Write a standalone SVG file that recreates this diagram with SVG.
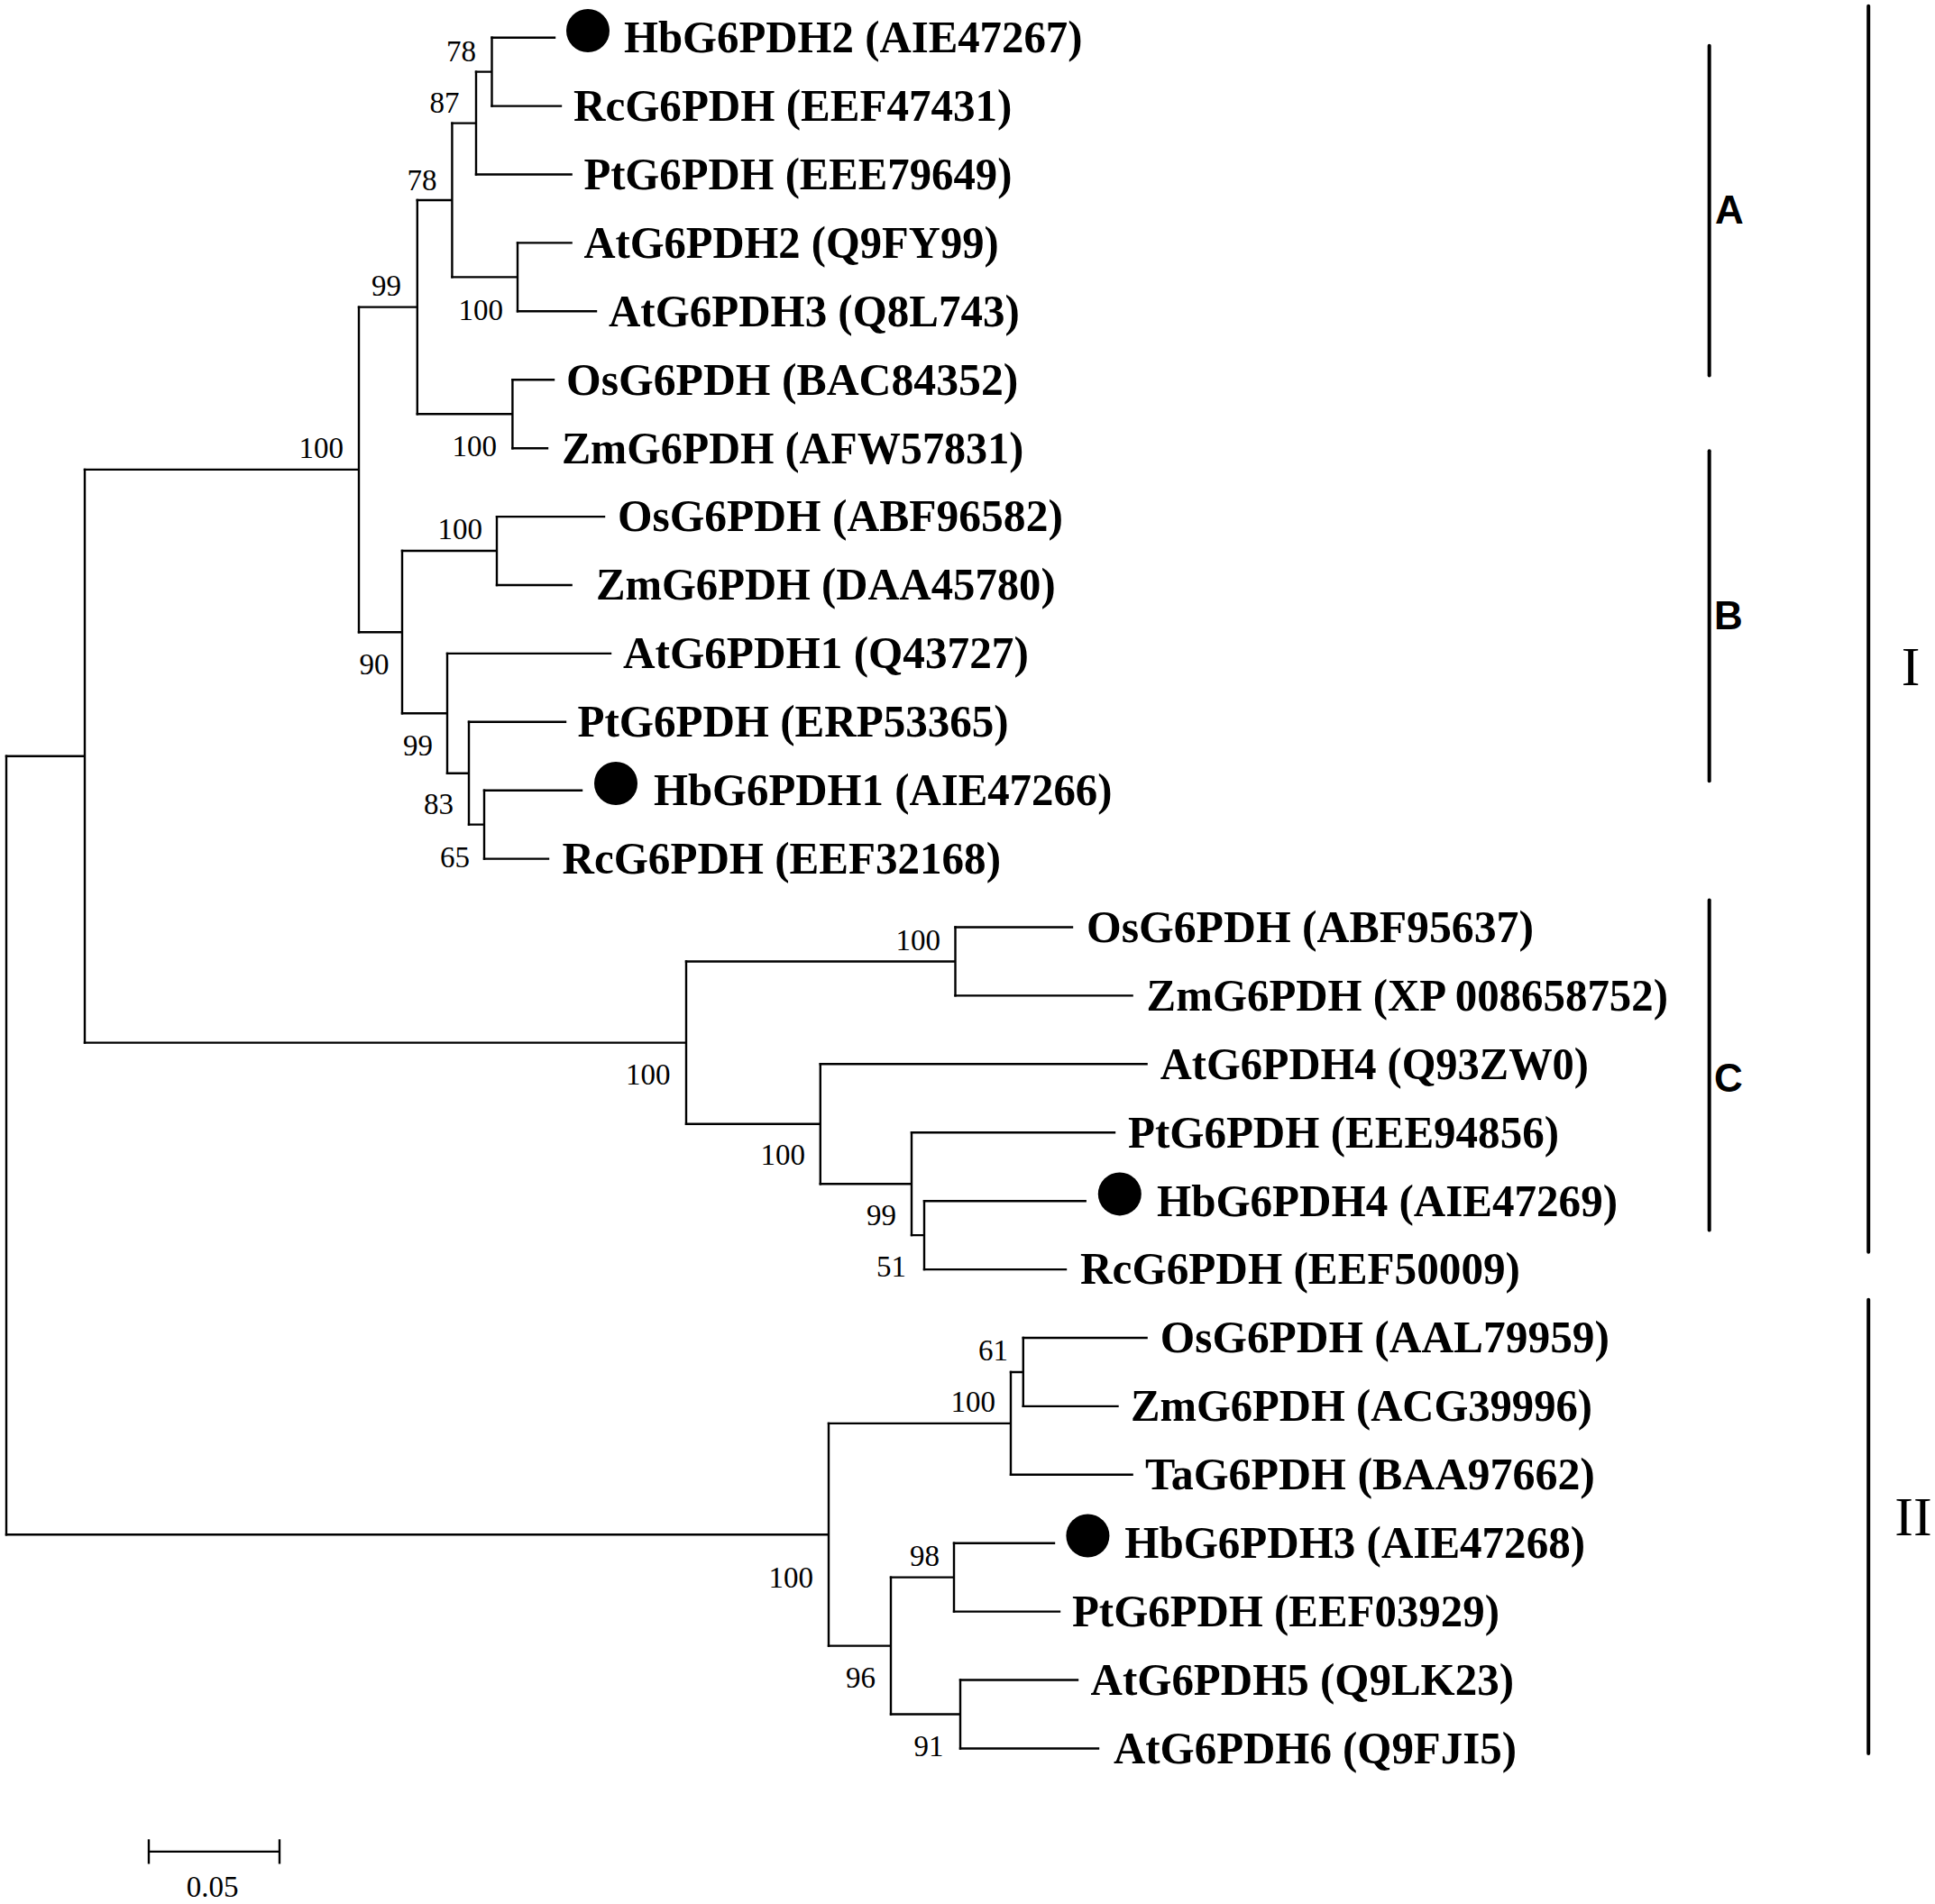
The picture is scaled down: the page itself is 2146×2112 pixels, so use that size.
<svg xmlns="http://www.w3.org/2000/svg" width="2146" height="2112" viewBox="0 0 2146 2112">
<style>
.br{fill:none;stroke:#000;stroke-width:2.4;stroke-linecap:square}
.bar{fill:none;stroke:#000;stroke-width:4;stroke-linecap:round}
.lf{font-family:"Liberation Serif","Times New Roman",serif;font-weight:bold;font-size:50px;fill:#000}
.bs{font-family:"Liberation Serif","Times New Roman",serif;font-size:33px;fill:#000;text-anchor:end}
.cl{font-family:"Liberation Sans",Arial,sans-serif;font-weight:bold;font-size:44px;fill:#000}
.gr{font-family:"Liberation Serif","Times New Roman",serif;font-size:62px;fill:#000;text-anchor:middle}
.dot{fill:#000}
</style>
<rect width="2146" height="2112" fill="#fff"/>
<g id="connectors">
<path class="br" d="M7 838.75 V1702.25"/>
<path class="br" d="M7 838.75 H94 M94 520.9 V1156.6"/>
<path class="br" d="M94 520.9 H398 M398 340.6 V701.2"/>
<path class="br" d="M398 340.6 H462.8 M462.8 222 V459.2"/>
<path class="br" d="M462.8 222 H501.4 M501.4 136.6 V307.35"/>
<path class="br" d="M501.4 136.6 H528 M528 79.65 V193.5"/>
<path class="br" d="M528 79.65 H545.5 M545.5 41.7 V117.6"/>
<path class="br" d="M501.4 307.35 H574 M574 269.4 V345.3"/>
<path class="br" d="M462.8 459.2 H568.4 M568.4 421.3 V497.2"/>
<path class="br" d="M398 701.2 H446 M446 611 V791.3"/>
<path class="br" d="M446 611 H551 M551 573.1 V649"/>
<path class="br" d="M446 791.3 H496 M496 724.9 V857.7"/>
<path class="br" d="M496 857.7 H520 M520 800.8 V914.65"/>
<path class="br" d="M520 914.65 H537 M537 876.7 V952.6"/>
<path class="br" d="M94 1156.6 H761 M761 1066.45 V1246.75"/>
<path class="br" d="M761 1066.45 H1059.5 M1059.5 1028.5 V1104.4"/>
<path class="br" d="M761 1246.75 H909.8 M909.8 1180.3 V1313.2"/>
<path class="br" d="M909.8 1313.2 H1011 M1011 1256.3 V1370.15"/>
<path class="br" d="M1011 1370.15 H1025 M1025 1332.2 V1408.1"/>
<path class="br" d="M7 1702.25 H919 M919 1578.9 V1825.6"/>
<path class="br" d="M919 1578.9 H1121 M1121 1521.95 V1635.8"/>
<path class="br" d="M1121 1521.95 H1134.8 M1134.8 1484 V1559.9"/>
<path class="br" d="M919 1825.6 H988 M988 1749.65 V1901.5"/>
<path class="br" d="M988 1749.65 H1058 M1058 1711.7 V1787.6"/>
<path class="br" d="M988 1901.5 H1065 M1065 1863.5 V1939.5"/>
<path class="br" d="M545.5 41.7 H615 M545.5 117.6 H622 M528 193.5 H633.6 M574 269.4 H633.6 M574 345.3 H661 M568.4 421.3 H614 M568.4 497.2 H607 M551 573.1 H670 M551 649 H633.6 M496 724.9 H677 M520 800.8 H627 M537 876.7 H645 M537 952.6 H608"/>
<path class="br" d="M1059.5 1028.5 H1189 M1059.5 1104.4 H1255.6 M909.8 1180.3 H1271.6 M1011 1256.3 H1236 M1025 1332.2 H1203.7 M1025 1408.1 H1182"/>
<path class="br" d="M1134.8 1484 H1271.6 M1134.8 1559.9 H1239.5 M1121 1635.8 H1255.6 M1058 1711.7 H1169 M1058 1787.6 H1175 M1065 1863.5 H1195 M1065 1939.5 H1218"/>
</g>
<g id="leaf-HbG6PDH2"><circle class="dot" cx="652" cy="34" r="24"/><text class="lf" x="692" y="58" textLength="508.5" lengthAdjust="spacingAndGlyphs">HbG6PDH2 (AIE47267)</text></g>
<g id="leaf-RcG6PDH-EEF47431"><text class="lf" x="636" y="133.9" textLength="486.4" lengthAdjust="spacingAndGlyphs">RcG6PDH (EEF47431)</text></g>
<g id="leaf-PtG6PDH-EEE79649"><text class="lf" x="647.4" y="209.8" textLength="475" lengthAdjust="spacingAndGlyphs">PtG6PDH (EEE79649)</text></g>
<g id="leaf-AtG6PDH2"><text class="lf" x="647.4" y="285.7" textLength="460.3" lengthAdjust="spacingAndGlyphs">AtG6PDH2 (Q9FY99)</text></g>
<g id="leaf-AtG6PDH3"><text class="lf" x="675" y="361.6" textLength="455.7" lengthAdjust="spacingAndGlyphs">AtG6PDH3 (Q8L743)</text></g>
<g id="leaf-OsG6PDH-BAC84352"><text class="lf" x="628" y="437.6" textLength="501.3" lengthAdjust="spacingAndGlyphs">OsG6PDH (BAC84352)</text></g>
<g id="leaf-ZmG6PDH-AFW57831"><text class="lf" x="623" y="513.5" textLength="512.3" lengthAdjust="spacingAndGlyphs">ZmG6PDH (AFW57831)</text></g>
<g id="leaf-OsG6PDH-ABF96582"><text class="lf" x="685" y="589.4" textLength="493.9" lengthAdjust="spacingAndGlyphs">OsG6PDH (ABF96582)</text></g>
<g id="leaf-ZmG6PDH-DAA45780"><text class="lf" x="661" y="665.3" textLength="509.6" lengthAdjust="spacingAndGlyphs">ZmG6PDH (DAA45780)</text></g>
<g id="leaf-AtG6PDH1"><text class="lf" x="691" y="741.2" textLength="449.8" lengthAdjust="spacingAndGlyphs">AtG6PDH1 (Q43727)</text></g>
<g id="leaf-PtG6PDH-ERP53365"><text class="lf" x="640.5" y="817.1" textLength="478.2" lengthAdjust="spacingAndGlyphs">PtG6PDH (ERP53365)</text></g>
<g id="leaf-HbG6PDH1"><circle class="dot" cx="683" cy="869" r="24"/><text class="lf" x="725" y="893" textLength="508.5" lengthAdjust="spacingAndGlyphs">HbG6PDH1 (AIE47266)</text></g>
<g id="leaf-RcG6PDH-EEF32168"><text class="lf" x="623.5" y="968.9" textLength="486.5" lengthAdjust="spacingAndGlyphs">RcG6PDH (EEF32168)</text></g>
<g id="leaf-OsG6PDH-ABF95637"><text class="lf" x="1205" y="1044.8" textLength="496" lengthAdjust="spacingAndGlyphs">OsG6PDH (ABF95637)</text></g>
<g id="leaf-ZmG6PDH-XP008658752"><text class="lf" x="1271.6" y="1120.7" textLength="578.4" lengthAdjust="spacingAndGlyphs">ZmG6PDH (XP 008658752)</text></g>
<g id="leaf-AtG6PDH4"><text class="lf" x="1286.8" y="1196.6" textLength="475.2" lengthAdjust="spacingAndGlyphs">AtG6PDH4 (Q93ZW0)</text></g>
<g id="leaf-PtG6PDH-EEE94856"><text class="lf" x="1251" y="1272.6" textLength="478" lengthAdjust="spacingAndGlyphs">PtG6PDH (EEE94856)</text></g>
<g id="leaf-HbG6PDH4"><circle class="dot" cx="1241.8" cy="1324.4" r="24"/><text class="lf" x="1283" y="1348.5" textLength="511" lengthAdjust="spacingAndGlyphs">HbG6PDH4 (AIE47269)</text></g>
<g id="leaf-RcG6PDH-EEF50009"><text class="lf" x="1198" y="1424.4" textLength="488" lengthAdjust="spacingAndGlyphs">RcG6PDH (EEF50009)</text></g>
<g id="leaf-OsG6PDH-AAL79959"><text class="lf" x="1286.8" y="1500.3" textLength="498.2" lengthAdjust="spacingAndGlyphs">OsG6PDH (AAL79959)</text></g>
<g id="leaf-ZmG6PDH-ACG39996"><text class="lf" x="1254" y="1576.2" textLength="512" lengthAdjust="spacingAndGlyphs">ZmG6PDH (ACG39996)</text></g>
<g id="leaf-TaG6PDH"><text class="lf" x="1270" y="1652.1" textLength="499" lengthAdjust="spacingAndGlyphs">TaG6PDH (BAA97662)</text></g>
<g id="leaf-HbG6PDH3"><circle class="dot" cx="1206.4" cy="1703.5" r="24"/><text class="lf" x="1247.3" y="1728" textLength="510.7" lengthAdjust="spacingAndGlyphs">HbG6PDH3 (AIE47268)</text></g>
<g id="leaf-PtG6PDH-EEF03929"><text class="lf" x="1189" y="1803.9" textLength="474" lengthAdjust="spacingAndGlyphs">PtG6PDH (EEF03929)</text></g>
<g id="leaf-AtG6PDH5"><text class="lf" x="1209.6" y="1879.8" textLength="469.4" lengthAdjust="spacingAndGlyphs">AtG6PDH5 (Q9LK23)</text></g>
<g id="leaf-AtG6PDH6"><text class="lf" x="1235" y="1955.8" textLength="447" lengthAdjust="spacingAndGlyphs">AtG6PDH6 (Q9FJI5)</text></g>
<g id="bootstrap">
<text class="bs" x="528" y="67.9">78</text>
<text class="bs" x="509.6" y="124.5">87</text>
<text class="bs" x="484.4" y="210.5">78</text>
<text class="bs" x="445" y="328.3">99</text>
<text class="bs" x="558" y="354.5">100</text>
<text class="bs" x="381" y="508">100</text>
<text class="bs" x="551" y="506.2">100</text>
<text class="bs" x="535" y="597.7">100</text>
<text class="bs" x="431.6" y="748">90</text>
<text class="bs" x="480" y="838">99</text>
<text class="bs" x="503" y="903">83</text>
<text class="bs" x="521" y="962">65</text>
<text class="bs" x="1043" y="1053.5">100</text>
<text class="bs" x="743.6" y="1202.7">100</text>
<text class="bs" x="893" y="1292">100</text>
<text class="bs" x="994" y="1359">99</text>
<text class="bs" x="1005" y="1416">51</text>
<text class="bs" x="1118" y="1509">61</text>
<text class="bs" x="1104" y="1565.7">100</text>
<text class="bs" x="902" y="1761">100</text>
<text class="bs" x="1042" y="1737">98</text>
<text class="bs" x="971" y="1872.3">96</text>
<text class="bs" x="1046.6" y="1948">91</text>
</g>
<g id="clade-A"><path class="bar" d="M1895.7 50.7 V416.6"/><text class="cl" x="1902" y="248">A</text></g>
<g id="clade-B"><path class="bar" d="M1895.7 500.3 V866.2"/><text class="cl" x="1901" y="698">B</text></g>
<g id="clade-C"><path class="bar" d="M1895.7 998.4 V1364.4"/><text class="cl" x="1901" y="1210.6">C</text></g>
<g id="group-I"><path class="bar" d="M2072.2 6.8 V1388.7"/><text class="gr" x="2119" y="759.7">I</text></g>
<g id="group-II"><path class="bar" d="M2072.2 1441.8 V1945"/><text class="gr" x="2122" y="1703.3">II</text></g>
<g id="scale-bar">
<path class="br" d="M165 2053.9 H310 M165 2040.3 V2067.5 M310 2040.3 V2067.5" style="stroke-linecap:butt"/>
<text x="235.5" y="2103.8" text-anchor="middle" font-family="Liberation Serif, serif" font-size="33">0.05</text>
</g>
</svg>
